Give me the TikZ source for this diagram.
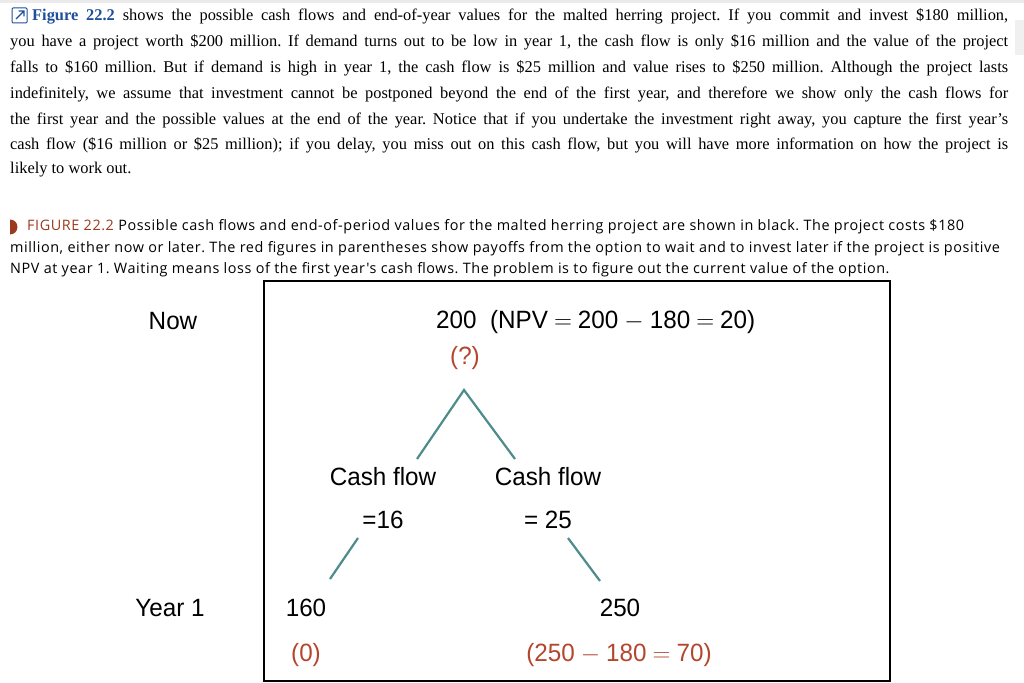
\documentclass[tikz,border=0pt]{standalone}
\usepackage{fontspec}
\setmainfont{Liberation Serif}
\newfontfamily\capfont[LetterSpace=4]{Open Sans}
\newfontfamily\dfont[FakeStretch=0.97]{Liberation Sans}
\frenchspacing
\newcommand\opsp{\hspace{6pt}}
\begin{document}
\begin{tikzpicture}[x=1pt,y=-1pt,
  body/.style={anchor=west,inner sep=0pt,font=\fontsize{16.4}{19}\selectfont},
  captext/.style={anchor=west,inner sep=0pt,font=\capfont\fontsize{14.4}{16}\selectfont},
  dl/.style={inner sep=0pt,font=\dfont\fontsize{25}{29}\selectfont},
  red/.style={text=optred},
  br/.style={draw=branch,line width=2.2pt}]
\definecolor{optred}{HTML}{B5462E}
\definecolor{linkblue}{HTML}{1F4E9A}
\definecolor{capred}{HTML}{9C3A1F}
\definecolor{branch}{HTML}{4E8C8C}
\useasboundingbox (0,0) rectangle (1024,682);
\fill[white] (0,0) rectangle (1024,682);
\fill[black!8] (0,0) rectangle (1024,3);
\fill[black!6] (1015,20) rectangle (1024,55);
% icon
\draw[linkblue,line width=1pt,rounded corners=1pt] (12,8) rectangle (27,23);
\draw[linkblue,line width=1.3pt] (16,19) -- (24,11) (18.5,11) -- (24,11) -- (24,16.5);
% body text
\node[body] (l1) at (10,16) {\makebox[998pt][s]{\hspace*{22pt}{\color{linkblue}\bfseries Figure 22.2} shows the possible cash flows and end-of-year values for the malted herring project. If you commit and invest \$180 million,}};
\node[body] (l2) at (10,42) {\makebox[998pt][s]{you have a project worth \$200 million. If demand turns out to be low in year 1, the cash flow is only \$16 million and the value of the project}};
\node[body] (l3) at (10,68) {\makebox[998pt][s]{falls to \$160 million. But if demand is high in year 1, the cash flow is \$25 million and value rises to \$250 million. Although the project lasts}};
\node[body] (l4) at (10,94) {\makebox[998pt][s]{indefinitely, we assume that investment cannot be postponed beyond the end of the first year, and therefore we show only the cash flows for}};
\node[body] (l5) at (10,120) {\makebox[998pt][s]{the first year and the possible values at the end of the year. Notice that if you undertake the investment right away, you capture the first year's}};
\node[body] (l6) at (10,145) {\makebox[998pt][s]{cash flow (\$16 million or \$25 million); if you delay, you miss out on this cash flow, but you will have more information on how the project is}};
\node[body] (l7) at (10,170) {likely to work out.};
% caption
\fill[capred] (10,219.5) arc[start angle=-90,end angle=90,radius=7.5] -- cycle;
\node[captext] (c1) at (27,227) {{\color{capred}FIGURE 22.2} Possible cash flows and end-of-period values for the malted herring project are shown in black. The project costs \$180};
\node[captext] (c2) at (10,249) {million, either now or later. The red figures in parentheses show payoffs from the option to wait and to invest later if the project is positive};
\node[captext] (c3) at (10,270) {NPV at year 1. Waiting means loss of the first year's cash flows. The problem is to figure out the current value of the option.};
% diagram
\draw[line width=1.3pt] (264,281) rectangle (890,681);
\node[dl] (now) at (173,321) {Now};
\node[dl,anchor=west] (top) at (436,322) {200\ \ (NPV\opsp$=$\opsp200\opsp$-$\opsp180\opsp$=$\opsp20)};
\node[dl,red] (q) at (465,358) {(?)};
\coordinate (apex) at (464,390);
\coordinate (la) at (417,459);
\coordinate (ra) at (515,459);
\draw[br] (la) -- (apex) -- (ra);
\node[dl] (cfl) at (383,477) {Cash flow};
\node[dl] (cfl2) at (383,520) {=16};
\node[dl] (cfr) at (548,477) {Cash flow};
\node[dl] (cfr2) at (548,520) {= 25};
\coordinate (lb1) at (358,538); \coordinate (lb2) at (330,579);
\coordinate (rb1) at (568,538); \coordinate (rb2) at (600,581);
\draw[br] (lb1) -- (lb2);
\draw[br] (rb1) -- (rb2);
\node[dl] (y1) at (170,608) {Year 1};
\node[dl] (v160) at (306,608) {160};
\node[dl,red] (z) at (306,655) {(0)};
\node[dl] (v250) at (620,608) {250};
\node[dl,red] (p) at (619,655) {(250\opsp$-$\opsp180\opsp$=$\opsp70)};
\end{tikzpicture}
\end{document}
